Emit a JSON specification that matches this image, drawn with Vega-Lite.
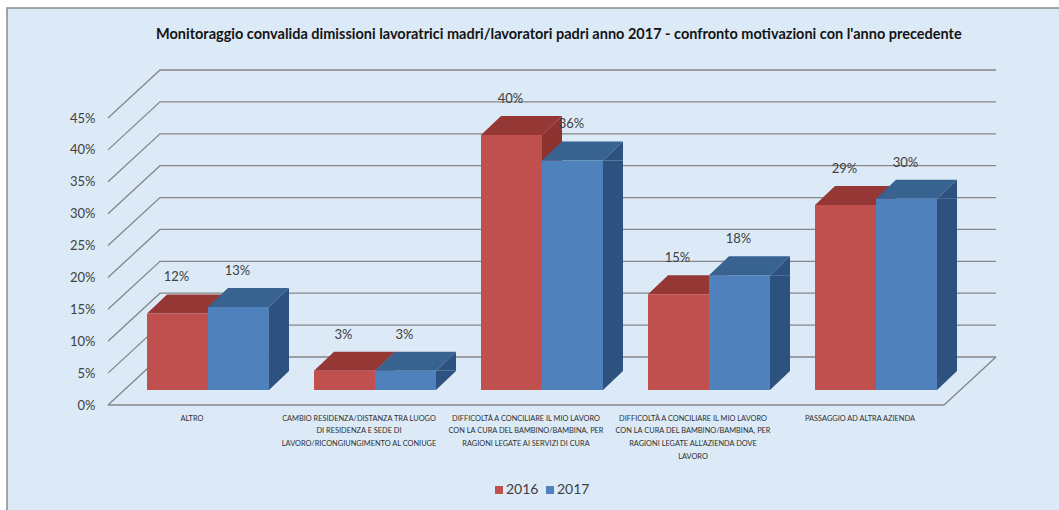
{
  "$schema": "https://vega.github.io/schema/vega-lite/v6.json",
  "width": 1052,
  "height": 502,
  "autosize": {"type": "none"},
  "padding": {"left": 7, "top": 8, "right": 0, "bottom": 0},
  "background": "#ffffff",
  "view": {"fill": "#dceaf7", "stroke": "#8a8a8a", "strokeWidth": 1.5, "strokeDash": [1052, 1554, 502]},
  "title": {
    "text": "Monitoraggio convalida dimissioni lavoratrici madri/lavoratori padri anno 2017 - confronto motivazioni con l'anno precedente",
    "anchor": "start",
    "frame": "group",
    "dx": 149,
    "dy": 38,
    "font": "Lato",
    "fontSize": 14.5,
    "fontWeight": "bold",
    "color": "#141414"
  },
  "datasets": {
    "motivazioni": [
      {"motivo": "ALTRO", "anno": "2016", "quota": 0.12},
      {"motivo": "ALTRO", "anno": "2017", "quota": 0.13},
      {"motivo": "CAMBIO RESIDENZA/DISTANZA TRA LUOGO\nDI RESIDENZA E SEDE DI\nLAVORO/RICONGIUNGIMENTO AL CONIUGE", "anno": "2016", "quota": 0.03},
      {"motivo": "CAMBIO RESIDENZA/DISTANZA TRA LUOGO\nDI RESIDENZA E SEDE DI\nLAVORO/RICONGIUNGIMENTO AL CONIUGE", "anno": "2017", "quota": 0.03},
      {"motivo": "DIFFICOLTÀ A CONCILIARE IL MIO LAVORO\nCON LA CURA DEL BAMBINO/BAMBINA, PER\nRAGIONI LEGATE AI SERVIZI DI CURA", "anno": "2016", "quota": 0.40},
      {"motivo": "DIFFICOLTÀ A CONCILIARE IL MIO LAVORO\nCON LA CURA DEL BAMBINO/BAMBINA, PER\nRAGIONI LEGATE AI SERVIZI DI CURA", "anno": "2017", "quota": 0.36},
      {"motivo": "DIFFICOLTÀ A CONCILIARE IL MIO LAVORO\nCON LA CURA DEL BAMBINO/BAMBINA, PER\nRAGIONI LEGATE ALL'AZIENDA DOVE\nLAVORO", "anno": "2016", "quota": 0.15},
      {"motivo": "DIFFICOLTÀ A CONCILIARE IL MIO LAVORO\nCON LA CURA DEL BAMBINO/BAMBINA, PER\nRAGIONI LEGATE ALL'AZIENDA DOVE\nLAVORO", "anno": "2017", "quota": 0.18},
      {"motivo": "PASSAGGIO AD ALTRA AZIENDA", "anno": "2016", "quota": 0.29},
      {"motivo": "PASSAGGIO AD ALTRA AZIENDA", "anno": "2017", "quota": 0.30}
    ],
    "griglia": [
      {"livello": 0}, {"livello": 0.05}, {"livello": 0.10}, {"livello": 0.15}, {"livello": 0.20},
      {"livello": 0.25}, {"livello": 0.30}, {"livello": 0.35}, {"livello": 0.40}, {"livello": 0.45}
    ]
  },
  "data": {"name": "motivazioni"},
  "encoding": {
    "x": {
      "field": "motivo",
      "type": "nominal",
      "sort": null,
      "title": null,
      "scale": {"range": [117.5, 952.5], "paddingInner": 0, "paddingOuter": 0},
      "axis": {
        "orient": "bottom",
        "offset": -96,
        "domain": false,
        "ticks": false,
        "labelPadding": 0,
        "labelAngle": 0,
        "labelOffset": -16,
        "labelFont": "Lato",
        "labelFontSize": 7.4,
        "labelColor": "#303030",
        "labelBaseline": "top",
        "labelLineHeight": 12.7,
        "labelLimit": 400,
        "labelOverlap": false,
        "labelExpr": "split(datum.label, '\\n')"
      }
    },
    "y": {
      "field": "quota",
      "type": "quantitative",
      "title": null,
      "scale": {"domain": [0, 0.45], "range": [397, 110], "nice": false},
      "axis": {
        "values": [0, 0.05, 0.10, 0.15, 0.20, 0.25, 0.30, 0.35, 0.40, 0.45],
        "format": ".0%",
        "offset": -94,
        "domain": false,
        "ticks": false,
        "grid": false,
        "labelPadding": 6,
        "labelFont": "Lato",
        "labelFontSize": 13,
        "labelColor": "#404040"
      }
    }
  },
  "layer": [
    {
      "data": {"name": "griglia"},
      "mark": {"type": "point", "shape": "M-100,0L-48,-48L788,-48", "size": 4, "filled": false, "stroke": "#868686", "strokeWidth": 1.3, "opacity": 1},
      "encoding": {
        "x": {"datum": "ALTRO"},
        "y": {"field": "livello", "type": "quantitative"}
      }
    },
    {
      "data": {"values": [{"livello": 0}]},
      "mark": {"type": "point", "shape": "M-100,0L736,0L788,-48", "size": 4, "filled": false, "stroke": "#868686", "strokeWidth": 1.3, "opacity": 1},
      "encoding": {
        "x": {"datum": "ALTRO"},
        "y": {"field": "livello", "type": "quantitative"}
      }
    },
    {
      "transform": [{"filter": "datum.anno === '2016'"}],
      "mark": {"type": "bar", "width": 20, "xOffset": 10, "yOffset": -15, "y2Offset": -34, "strokeWidth": 0, "color": "#8f3331"},
      "encoding": {"y2": {"datum": 0}}
    },
    {
      "transform": [{"filter": "datum.anno === '2017'"}],
      "mark": {"type": "bar", "width": 20, "xOffset": 71, "yOffset": -15, "y2Offset": -34, "strokeWidth": 0, "color": "#2e527f"},
      "encoding": {"y2": {"datum": 0}}
    },
    {
      "mark": {"type": "point", "shape": "M30.5,0L50.5,0L50.5,-19Z", "size": 4, "filled": true, "strokeWidth": 0, "opacity": 1, "yOffset": -15},
      "encoding": {
        "xOffset": {"field": "anno", "type": "nominal", "scale": {"paddingInner": 0, "paddingOuter": 0.369}},
        "color": {"condition": {"test": "datum.anno === '2016'", "value": "#8f3331"}, "value": "#2e527f"}
      }
    },
    {
      "mark": {"type": "point", "shape": "M30.5,0L30.5,-19L50.5,-19Z", "size": 4, "filled": true, "strokeWidth": 0, "opacity": 1, "yOffset": -15},
      "encoding": {
        "xOffset": {"field": "anno", "type": "nominal"},
        "y": {"datum": 0},
        "color": {"condition": {"test": "datum.anno === '2016'", "value": "#8f3331"}, "value": "#2e527f"}
      }
    },
    {
      "mark": {"type": "point", "shape": "M-30.5,0L30.5,0L50.5,-19L-10.5,-19Z", "size": 4, "filled": true, "strokeWidth": 0, "opacity": 1, "yOffset": -15},
      "encoding": {
        "xOffset": {"field": "anno", "type": "nominal"},
        "color": {"condition": {"test": "datum.anno === '2016'", "value": "#953735"}, "value": "#386290"}
      }
    },
    {
      "mark": {"type": "bar", "yOffset": -15, "y2Offset": -15, "strokeWidth": 0},
      "encoding": {
        "xOffset": {"field": "anno", "type": "nominal"},
        "y2": {"datum": 0},
        "color": {
          "field": "anno",
          "type": "nominal",
          "scale": {"domain": ["2016", "2017"], "range": ["#c0504d", "#4f81bd"]},
          "legend": {
            "title": null,
            "orient": "none",
            "legendX": 485,
            "legendY": 475,
            "direction": "horizontal",
            "symbolType": "square",
            "symbolSize": 64,
            "symbolStrokeWidth": 0,
            "labelFont": "Lato",
            "labelFontSize": 14,
            "labelColor": "#404040",
            "labelOffset": 0,
            "columnPadding": 4
          }
        }
      }
    },
    {
      "mark": {"type": "text", "font": "Lato", "fontSize": 13, "color": "#404040", "baseline": "middle", "dx": -1, "dy": -51},
      "encoding": {
        "xOffset": {"field": "anno", "type": "nominal"},
        "text": {"field": "quota", "type": "quantitative", "format": ".0%"}
      }
    }
  ]
}
